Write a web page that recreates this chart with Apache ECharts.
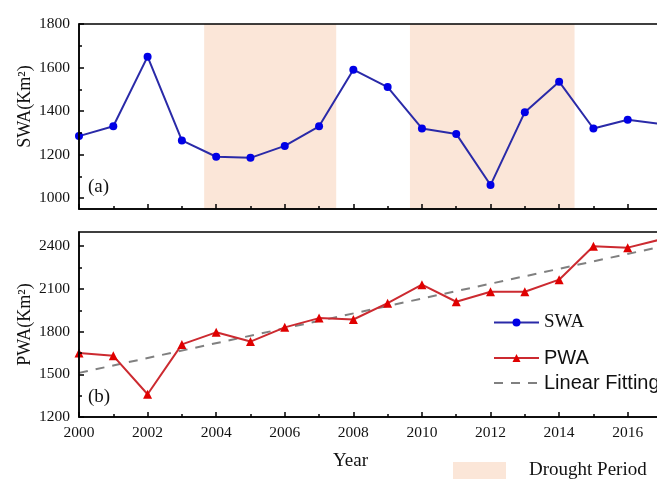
<!DOCTYPE html>
<html>
<head>
<meta charset="utf-8">
<script src="https://cdn.jsdelivr.net/npm/echarts@6.0.0/dist/echarts.min.js"></script>
<style>
  html, body { margin: 0; padding: 0; background: #fff; }
  #chart { width: 657px; height: 479px; }
</style>
</head>
<body>
<div id="chart"></div>
<script>
// Surface water area (SWA) and permanent water area (PWA), 2000-2017
const years = [2000, 2001, 2002, 2003, 2004, 2005, 2006, 2007, 2008,
               2009, 2010, 2011, 2012, 2013, 2014, 2015, 2016, 2017];
const swaValues = [1285, 1330, 1650, 1265, 1190, 1185, 1240, 1330, 1590,
                   1510, 1320, 1295, 1060, 1395, 1535, 1320, 1360, 1340];
const pwaValues = [1650, 1630, 1360, 1710, 1795, 1730, 1830, 1895, 1885,
                   2000, 2130, 2010, 2080, 2080, 2165, 2400, 2390, 2450];
// Linear fitting of PWA, given by its two end points
const fitYears = [2000, 2017];
const fitValues = [1510, 2398];
// Drought periods (start, end) in fractional years
const droughtPeriods = [[2003.65, 2007.5], [2009.65, 2014.45]];

// Tick labels
const yearLabels = [2000, 2002, 2004, 2006, 2008, 2010, 2012, 2014, 2016];
const yearMinor = [2001, 2003, 2005, 2007, 2009, 2011, 2013, 2015];
const swaTicks = [1000, 1200, 1400, 1600, 1800];
const swaMinor = [1100, 1300, 1500, 1700];
const pwaTicks = [1200, 1500, 1800, 2100, 2400];
const pwaMinor = [1350, 1650, 1950, 2250];

const SERIF = '"Liberation Serif", "Times New Roman", serif';
const SANS = '"Liberation Sans", Arial, sans-serif';

const pair = (xs, ys) => xs.map((x, i) => [x, ys[i]]);
const plain = v => String(v);

const GRID_H = 185;
const GRID_W = 583;
const AXIS_LINE = { show: true, onZero: false, lineStyle: { color: '#000', width: 1.5 } };

function majorX(gridIndex, showLabels, name) {
  return {
    type: 'value', gridIndex, min: 2000, max: 2017, z: 5, position: 'bottom',
    name: name || '', nameLocation: 'middle', nameGap: 35, nameMoveOverlap: false,
    nameTextStyle: { fontFamily: SERIF, fontSize: 19, color: '#111', padding: [0, 40, 0, 0] },
    axisLine: AXIS_LINE,
    axisTick: { show: true, inside: true, length: 5, customValues: yearLabels, lineStyle: { color: '#000', width: 1.5 } },
    axisLabel: { show: showLabels, customValues: yearLabels, formatter: plain, margin: 8, fontFamily: SERIF, fontSize: 15.5, color: '#111' },
    splitLine: { show: false }
  };
}
// Shorter ticks for odd years, on the same bottom edge
function minorX(gridIndex) {
  return {
    type: 'value', gridIndex, min: 2000, max: 2017, z: 5, position: 'bottom',
    axisLine: { show: false, onZero: false },
    axisTick: { show: true, inside: true, length: 3, customValues: yearMinor, lineStyle: { color: '#000', width: 1.5 } },
    axisLabel: { show: false },
    splitLine: { show: false }
  };
}
function majorY(gridIndex, min, max, ticks, name, pad) {
  return {
    type: 'value', gridIndex, min, max, z: 5, position: 'left',
    name, nameLocation: 'middle', nameGap: 45, nameRotate: 90, nameMoveOverlap: false,
    nameTextStyle: { fontFamily: SERIF, fontSize: 18, color: '#111', padding: pad },
    axisLine: AXIS_LINE,
    axisTick: { show: true, inside: true, length: 5, customValues: ticks, lineStyle: { color: '#000', width: 1.5 } },
    axisLabel: { customValues: ticks, formatter: plain, margin: 9, fontFamily: SERIF, fontSize: 15.5, color: '#111' },
    splitLine: { show: false }
  };
}
// Shorter in-between ticks on the same left edge
function minorY(gridIndex, min, max, ticks) {
  return {
    type: 'value', gridIndex, min, max, z: 5, position: 'left',
    axisLine: { show: false, onZero: false },
    axisTick: { show: true, inside: true, length: 3, customValues: ticks, lineStyle: { color: '#000', width: 1.5 } },
    axisLabel: { show: false },
    splitLine: { show: false }
  };
}

const gridStyle = {
  show: true, z: 5, backgroundColor: 'transparent',
  borderColor: '#000', borderWidth: 1.5,
  containLabel: false, outerBoundsMode: 'none'
};

const option = {
  animation: false,
  backgroundColor: '#fff',
  grid: [
    Object.assign({ left: 79, top: 24, width: GRID_W, height: GRID_H }, gridStyle),
    Object.assign({ left: 79, top: 232, width: GRID_W, height: GRID_H }, gridStyle)
  ],
  xAxis: [majorX(0, false), minorX(0), majorX(1, true, 'Year'), minorX(1)],
  yAxis: [
    majorY(0, 950, 1800, swaTicks, 'SWA(Km²)', [0, 0, 0, 20]),
    minorY(0, 950, 1800, swaMinor),
    majorY(1, 1200, 2500, pwaTicks, 'PWA(Km²)', [0, 0, 0, 0]),
    minorY(1, 1200, 2500, pwaMinor)
  ],
  legend: [
    {
      left: 488, top: 308, orient: 'vertical', selectedMode: false,
      itemWidth: 45, itemHeight: 10, itemGap: 5,
      data: [{ name: 'SWA', textStyle: { fontFamily: SERIF, fontSize: 19, color: '#111' } }]
    },
    {
      left: 488, top: 343, orient: 'vertical', selectedMode: false,
      itemWidth: 45, itemHeight: 10, itemGap: 5,
      textStyle: { fontFamily: SANS, fontSize: 20, color: '#111', lineHeight: 20 },
      data: [
        { name: 'PWA' },
        { name: 'Linear Fitting', itemStyle: { opacity: 0 } }
      ]
    }
  ],
  series: [
    {
      name: 'SWA', type: 'line', xAxisIndex: 0, yAxisIndex: 0,
      data: pair(years, swaValues),
      symbol: 'circle', symbolSize: 8,
      lineStyle: { color: '#2a2aa8', width: 2 },
      itemStyle: { color: '#0000e6' },
      markArea: {
        silent: true,
        itemStyle: { color: '#fbe6d8' },
        data: droughtPeriods.map(p => [{ xAxis: p[0] }, { xAxis: p[1] }])
      },
      z: 3
    },
    {
      name: 'PWA', type: 'line', xAxisIndex: 2, yAxisIndex: 2,
      data: pair(years, pwaValues),
      symbol: 'triangle', symbolSize: 9,
      lineStyle: { color: '#cc2a30', width: 2 },
      itemStyle: { color: '#e00000' },
      z: 3
    },
    {
      name: 'Linear Fitting', type: 'line', xAxisIndex: 2, yAxisIndex: 2,
      data: pair(fitYears, fitValues),
      symbol: 'none',
      lineStyle: { color: '#808080', width: 2, type: [9, 8] },
      itemStyle: { color: '#808080' },
      z: 2
    }
  ],
  graphic: [
    { type: 'text', left: 88, top: 178, style: { text: '(a)', fontFamily: SERIF, fontSize: 19, fill: '#111' } },
    { type: 'text', left: 88, top: 388, style: { text: '(b)', fontFamily: SERIF, fontSize: 19, fill: '#111' } },
    { type: 'rect', left: 453, top: 462, shape: { width: 53, height: 20 }, style: { fill: '#fbe6d8' } },
    { type: 'text', left: 529, top: 461, style: { text: 'Drought Period', fontFamily: SERIF, fontSize: 19, fill: '#111' } }
  ]
};

const chart = echarts.init(document.getElementById('chart'), null, { renderer: 'canvas' });
chart.setOption(option);
</script>
</body>
</html>
